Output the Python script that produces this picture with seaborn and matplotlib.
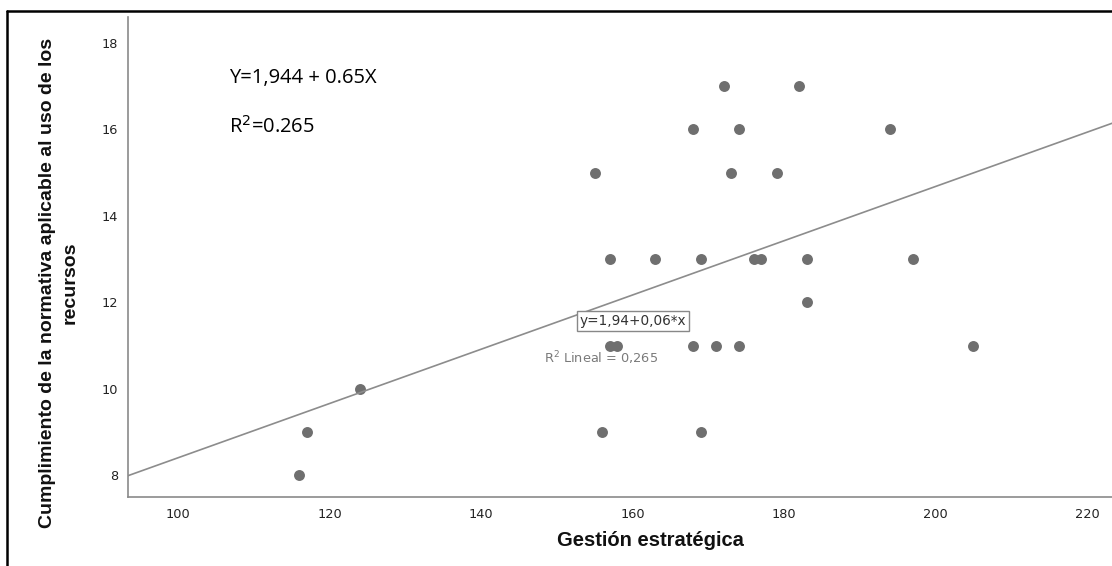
import numpy as np
import pandas as pd
import matplotlib
matplotlib.use("Agg")
import matplotlib.pyplot as plt
import seaborn as sns
from matplotlib.lines import Line2D

# ---- data ----
gestion = [116, 117, 124, 155, 156, 157, 157, 158, 163, 168, 168, 169, 169, 171,
           172, 173, 174, 174, 176, 177, 179, 182, 183, 183, 194, 197, 205]
cumplimiento = [8, 9, 10, 15, 9, 13, 11, 11, 13, 16, 11, 13, 9, 11,
                17, 15, 16, 11, 13, 13, 15, 17, 13, 12, 16, 13, 11]
x_ticks = [100, 120, 140, 160, 180, 200, 220]
y_ticks = [8, 10, 12, 14, 16, 18]
xlabel = "Gestión estratégica"
ylabel = "Cumplimiento de la normativa aplicable al uso de los\nrecursos"
eq_text = "Y=1,944 + 0.65X"
r2_text = "R$^2$=0.265"
box_text = "y=1,94+0,06*x"
r2_lineal = "R$^2$ Lineal = 0,265"

df = pd.DataFrame({"x": gestion, "y": cumplimiento})

sns.set_theme(style="white")
plt.rcParams['font.family'] = ['DejaVu Sans']

W, H = 1112, 566
fig = plt.figure(figsize=(W / 100, H / 100), dpi=100)
ax = fig.add_axes([127.5 / W, 1 - 497 / H, 1 - 127.5 / W, (497 - 17) / H])
ax.set_xlim(93.3, 223.3)
ax.set_ylim(7.5, 18.6)

# ellipse marker (slightly wider than tall)
t = np.linspace(0, 2 * np.pi, 40)
ell = np.column_stack([np.cos(t), 0.7 * np.sin(t)])

sns.regplot(data=df, x="x", y="y", ax=ax, ci=None, truncate=False,
            scatter_kws=dict(marker=ell, s=62, color="#6f6f6f", alpha=1, linewidths=0),
            line_kws=dict(color="#8c8c8c", lw=1.2))

ax.set_xticks(x_ticks)
ax.set_yticks(y_ticks)
ax.set_xlabel("")
ax.set_ylabel("")
ax.tick_params(axis="both", length=0, labelsize=9.3, labelcolor="#222222")
ax.tick_params(axis="x", pad=8)
ax.tick_params(axis="y", pad=7)
for s in ["top", "right"]:
    ax.spines[s].set_visible(False)
for s in ["left", "bottom"]:
    ax.spines[s].set_color("#8a8a8a")
    ax.spines[s].set_linewidth(1.2)

narrow = ['Liberation Sans Narrow', 'Liberation Sans', 'DejaVu Sans']
fig.text(59 / W, 1 - 283 / H, ylabel, rotation=90, ha="center", va="center",
         multialignment="center", fontsize=14, fontweight="bold", family=narrow,
         color="#111111", linespacing=1.4)
fig.text(650 / W, 1 - 541 / H, xlabel, ha="center", va="center",
         fontsize=14.5, fontweight="bold", family=narrow, color="#111111")

calib = ['Open Sans', 'DejaVu Sans']
fig.text(229 / W, 1 - 78 / H, eq_text, ha="left", va="center", fontsize=14.5,
         family=calib, color="black")
fig.text(229 / W, 1 - 127 / H, r2_text, ha="left", va="center", fontsize=14.5,
         family=calib, color="black")

fig.text(633 / W, 1 - 321 / H, box_text, ha="center", va="center", fontsize=9.8,
         color="#333333",
         bbox=dict(boxstyle="square,pad=0.2", fc="white", ec="#888888", lw=1))
fig.text(601 / W, 1 - 358 / H, r2_lineal, ha="center", va="center", fontsize=9.3,
         color="#7a7a7a")

# outer frame
fig.add_artist(Line2D([7 / W, 1.0], [1 - 11 / H, 1 - 11 / H], color="black", lw=1.8,
                      transform=fig.transFigure))
fig.add_artist(Line2D([7 / W, 7 / W], [0, 1 - 11 / H], color="black", lw=1.8,
                      transform=fig.transFigure))

fig.savefig("out.png", dpi=100)
